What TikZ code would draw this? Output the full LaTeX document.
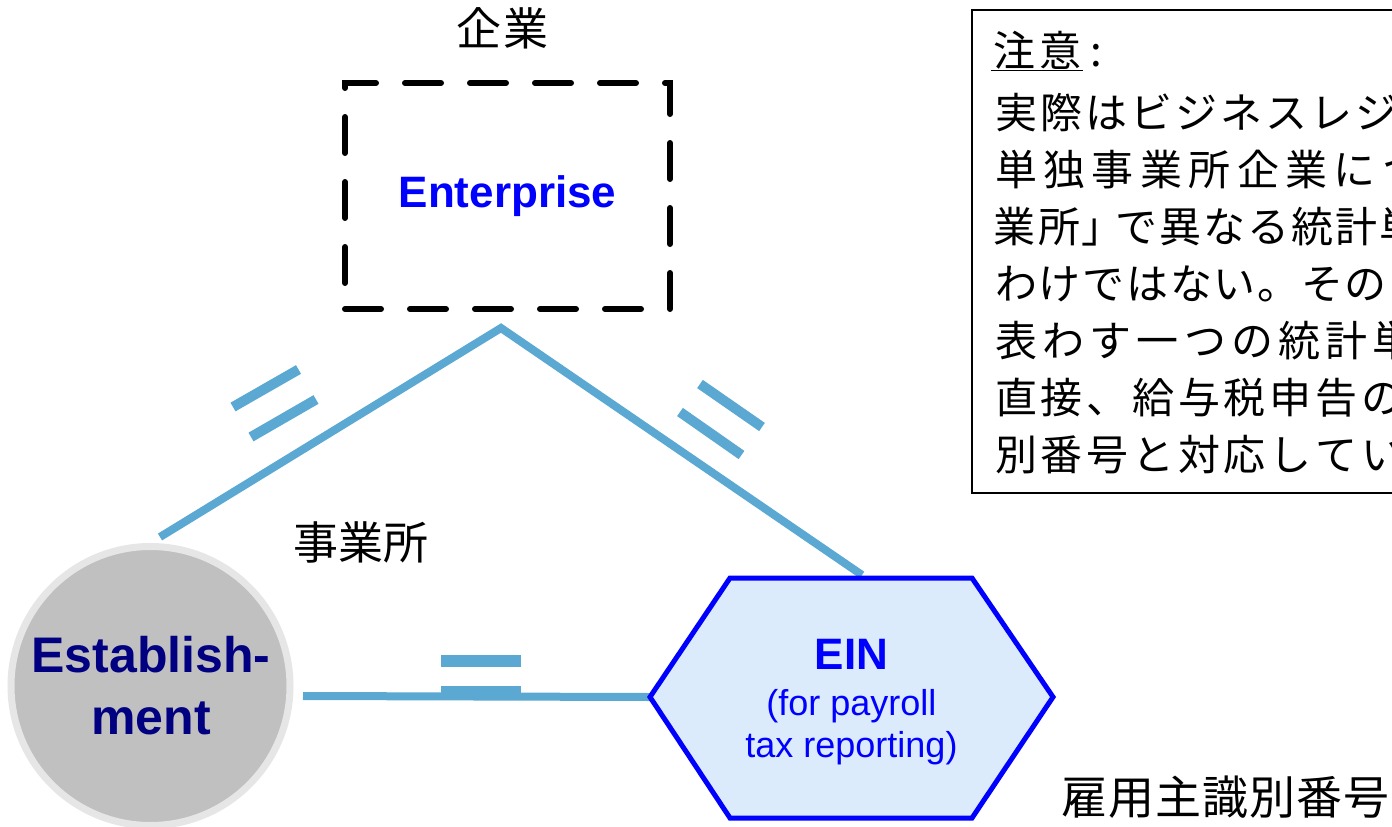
\documentclass[tikz,border=0pt]{standalone}
\usepackage{fontspec}
\setmainfont{Liberation Sans}
\newfontfamily\jp{Noto Sans CJK JP}
\definecolor{conn}{RGB}{91,168,211}
\definecolor{navyt}{RGB}{0,0,128}
\definecolor{circfill}{RGB}{192,192,192}
\definecolor{ringc}{RGB}{230,230,230}
\definecolor{hexfill}{RGB}{220,235,251}
\definecolor{pureblue}{RGB}{0,0,255}
\ExplSyntaxOn
\NewDocumentCommand\pitched{mm}{\tl_map_inline:nn {#2} {\makebox[#1][c]{##1}}}
\ExplSyntaxOff
\begin{document}
\begin{tikzpicture}[x=1pt,y=-1pt,
  connector/.style={draw=conn,line width=8pt},
  eqbar/.style={draw=conn,line width=10pt},
  jplabel/.style={font=\jp\fontsize{45}{50}\selectfont,inner sep=0pt,anchor=base},
  notetext/.style={font=\jp\fontsize{42}{50}\selectfont,inner sep=0pt,anchor=base west},
  enterbox/.style={draw=black,line width=6pt,line cap=round,dash pattern=on 36pt off 29pt,
    minimum width=325pt,minimum height=226pt,inner sep=0pt,
    font=\fontsize{44}{50}\bfseries,text=pureblue},
  estcirc/.style={circle,minimum size=279pt,inner sep=0pt,fill=circfill,draw=ringc,line width=7pt},
  esttext/.style={font=\fontsize{50}{60}\bfseries,text=navyt,inner sep=0pt,anchor=base},
  hexshape/.style={fill=hexfill,draw=pureblue,line width=5pt,line join=miter},
  eintitle/.style={font=\fontsize{44}{50}\bfseries,text=pureblue,inner sep=0pt,anchor=base},
  einsub/.style={font=\fontsize{36}{42}\selectfont,text=pureblue,inner sep=0pt,anchor=base},
  notebox/.style={draw=black,line width=2pt}]
\useasboundingbox (0,0) rectangle (1392,827);
\fill[white] (0,0) rectangle (1392,827);

% coordinates of the connector ends and hexagon corners
\coordinate (apex) at (501,328);
\coordinate (estTop) at (160,537);
\coordinate (einTop) at (862,575);
\coordinate (estR) at (303,696);
\coordinate (hL) at (650,697);
\coordinate (hTL) at (730,578);
\coordinate (hTR) at (972,578);
\coordinate (hR) at (1053,697);
\coordinate (hBR) at (972,818);
\coordinate (hBL) at (730,818);

% connectors
\draw[connector,line join=miter] (estTop) -- (apex) -- (einTop);
\draw[connector] (estR) -- (hL);

% equality bars
\draw[eqbar] (233,407) -- (298.5,369.5);
\draw[eqbar] (251,437) -- (316,399.5);
\draw[eqbar] (700,384) -- (762,427);
\draw[eqbar] (680,412) -- (741.5,455);
\draw[conn,line width=12pt] (441,660.5) -- (521,660.5);
\draw[conn,line width=10pt] (441,691) -- (521,691);

% Enterprise
\node[enterbox] (ent) at (507.5,196) {Enterprise};
\node[jplabel] (entjp) at (502.5,45) {\pitched{47pt}{企業}};

% Establishment
\node[estcirc] (est) at (150.5,686) {};
\node[esttext] (estA) at (151,672) {Establish-};
\node[esttext] (estB) at (151,734) {ment};
\node[jplabel] (estjp) at (361,559.5) {\pitched{45pt}{事業所}};

% EIN hexagon
\draw[hexshape] (hL) -- (hTL) -- (hTR) -- (hR) -- (hBR) -- (hBL) -- cycle;
\node[eintitle] (ein) at (851.5,669) {EIN};
\node[einsub] (einA) at (851.5,715) {(for payroll};
\node[einsub] (einB) at (851.5,757) {tax reporting)};
\node[jplabel,font=\jp\fontsize{46}{50}\selectfont] (einjp) at (1225.5,814) {\pitched{47pt}{雇用主識別番号}};

% note box
\draw[notebox] (972,10) rectangle (1480,493);
\node[notetext] (n1) at (991,66) {\underline{\pitched{46pt}{注意}}\,:};
\node[notetext] (n2) at (993.5,128) {\pitched{45pt}{実際はビジネスレジ}};
\node[notetext] (n3) at (991.8,185) {\pitched{48.4pt}{単独事業所企業につ}};
\node[notetext] (n4) at (991.5,242) {\pitched{45pt}{業所}\makebox[33pt][l]{」}\pitched{44pt}{で異なる統計単}};
\node[notetext] (n5) at (994.2,299) {\pitched{43.7pt}{わけではない。その}};
\node[notetext] (n6) at (992.4,356) {\pitched{47.2pt}{表わす一つの統計単}};
\node[notetext] (n7) at (993.1,413) {\pitched{45.75pt}{直接、給与税申告の}};
\node[notetext] (n8) at (993.1,470) {\pitched{45.75pt}{別番号と対応してい}};
\end{tikzpicture}
\end{document}
